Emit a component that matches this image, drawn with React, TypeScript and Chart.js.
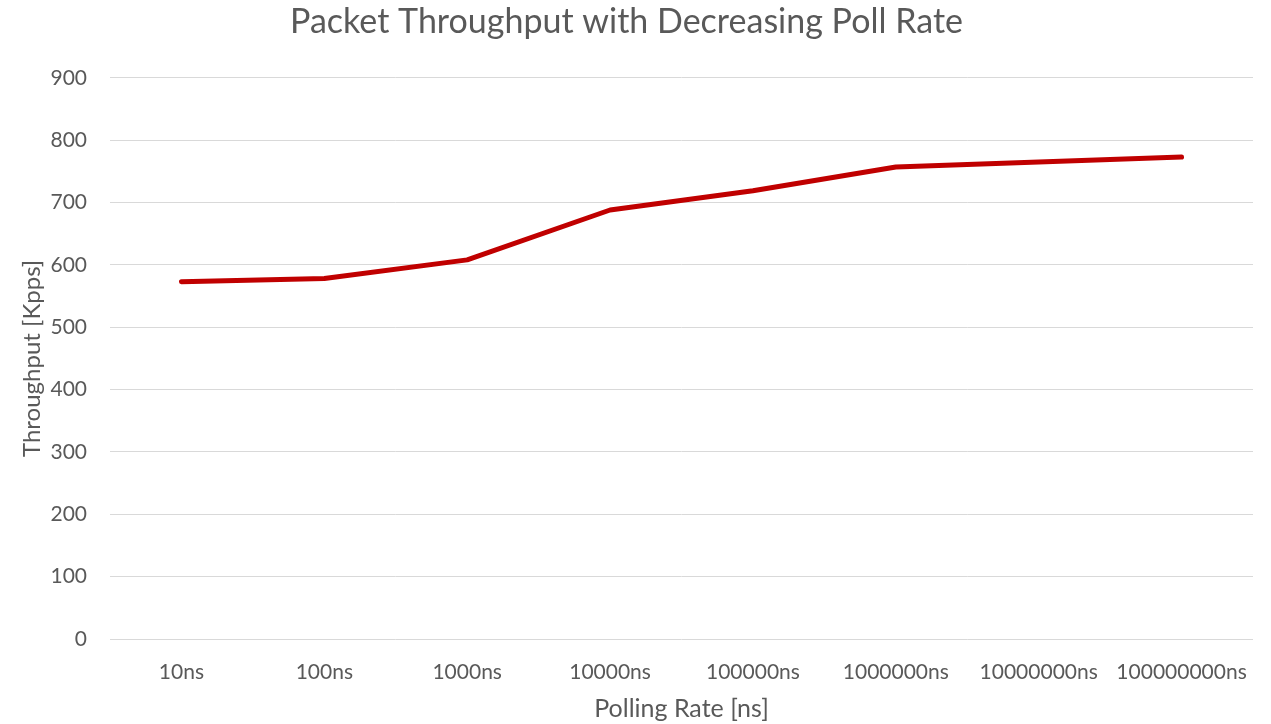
import React, { useEffect, useRef } from "react";
import { Chart, registerables } from "chart.js";

Chart.register(...registerables);

const categories = ["10ns", "100ns", "1000ns", "10000ns", "100000ns", "1000000ns", "10000000ns", "100000000ns"];
const throughput = [573, 578, 608, 688, 719, 757, 765, 773];
const yMin = 0;
const yMax = 900;
const yStep = 100;

const chartTitle = "Packet Throughput with Decreasing Poll Rate";
const xTitle = "Polling Rate [ns]";
const yTitle = "Throughput [Kpps]";

const FONT = "Lato, 'Open Sans', sans-serif";
const TEXT = "#595959";

export default function App() {
  const ref = useRef<HTMLCanvasElement | null>(null);
  useEffect(() => {
    document.body.style.margin = "0";
    const c = ref.current;
    if (!c) return;
    const chart = new Chart(c, {
      type: "line",
      data: {
        labels: categories,
        datasets: [
          {
            data: throughput,
            borderColor: "#C00000",
            backgroundColor: "#C00000",
            borderWidth: 5,
            pointRadius: 0,
            borderCapStyle: "round",
            borderJoinStyle: "round",
            tension: 0,
          },
        ],
      },
      options: {
        responsive: false,
        animation: false,
        layout: { padding: { left: 0, right: 18, top: 0, bottom: 0 } },
        plugins: {
          legend: { display: false },
          tooltip: { enabled: false },
          title: {
            display: true,
            text: chartTitle,
            color: TEXT,
            font: { family: FONT, size: 34, weight: "normal" },
            padding: { top: 2, bottom: 35 },
          },
        },
        scales: {
          x: {
            offset: true,
            grid: { display: false, drawTicks: false },
            border: { display: false },
            afterFit: (scale: any) => {
              scale.height = 85;
            },
            ticks: {
              color: TEXT,
              font: { family: FONT, size: 21 },
              padding: 21,
              maxRotation: 0,
              autoSkip: false,
            },
            title: {
              display: true,
              text: xTitle,
              color: TEXT,
              font: { family: FONT, size: 25 },
              padding: { top: 0, bottom: 0 },
            },
          },
          y: {
            min: yMin,
            max: yMax,
            grid: { color: "#d9d9d9", lineWidth: 1, drawTicks: false },
            border: { display: false },
            afterFit: (scale: any) => {
              scale.width = 110;
            },
            ticks: {
              stepSize: yStep,
              color: TEXT,
              font: { family: FONT, size: 21 },
              padding: 23,
            },
            title: {
              display: true,
              text: yTitle,
              color: TEXT,
              font: { family: FONT, size: 24 },
              padding: { top: 18, bottom: 0 },
            },
          },
        },
      },
    });
    return () => chart.destroy();
  }, []);
  return <canvas ref={ref} width={1271} height={724} style={{ display: "block" }} />;
}
